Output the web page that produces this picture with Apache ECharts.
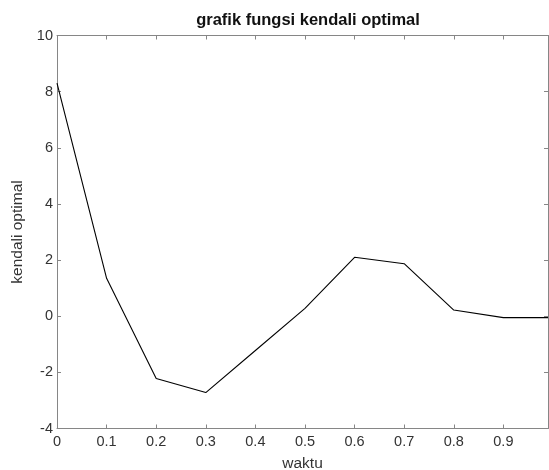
<!DOCTYPE html>
<html>
<head>
<meta charset="utf-8">
<script src="https://cdn.jsdelivr.net/npm/echarts@6/dist/echarts.min.js"></script>
<style>html,body{margin:0;padding:0;background:#fff}#c{width:549px;height:470px}</style>
</head>
<body>
<div id="c"></div>
<script>
var waktu = [0, 0.1, 0.2, 0.3, 0.4, 0.5, 0.6, 0.7, 0.8, 0.9, 0.99];
var kendali = [8.3, 1.35, -2.22, -2.72, -1.22, 0.28, 2.1, 1.87, 0.22, -0.05, -0.05];
var yTicks = [-4, -2, 0, 2, 4, 6, 8, 10];

var data = waktu.map(function (t, i) { return [t, kendali[i]]; });
var font = 'Liberation Sans, Arial, Helvetica, sans-serif';
var axisColor = '#868686';
var labelColor = '#333';

var chart = echarts.init(document.getElementById('c'));
chart.setOption({
  animation: false,
  title: {
    text: 'grafik fungsi kendali optimal',
    left: 303, top: 7, textAlign: 'center',
    textStyle: { fontFamily: font, fontSize: 16.5, fontWeight: 'bold', color: '#111' }
  },
  grid: { left: 57, top: 35.5, right: 1, bottom: 41.5, containLabel: false, outerBoundsMode: 'none' },
  xAxis: [{
    type: 'value', min: 0, max: 0.99, interval: 0.1,
    name: 'waktu', nameLocation: 'middle', nameGap: 27,
    nameTextStyle: { fontFamily: font, fontSize: 15.5, color: labelColor },
    axisLine: { onZero: false, lineStyle: { color: axisColor, width: 1 } },
    axisTick: { inside: true, length: 4, lineStyle: { color: axisColor } },
    axisLabel: { fontFamily: font, fontSize: 14.5, color: labelColor, margin: 6, showMaxLabel: false,
      formatter: function (v) { return String(Math.round(v * 10) / 10); } },
    splitLine: { show: false }
  }, {
    type: 'value', position: 'top', min: 0, max: 0.99, interval: 0.1,
    axisLine: { onZero: false, lineStyle: { color: axisColor, width: 1 } },
    axisTick: { inside: true, length: 4, lineStyle: { color: axisColor } },
    axisLabel: { show: false },
    splitLine: { show: false }
  }],
  yAxis: [{
    type: 'value', min: yTicks[0], max: yTicks[yTicks.length - 1], interval: 2,
    name: 'kendali optimal', nameLocation: 'middle', nameGap: 25, nameRotate: 90,
    nameTextStyle: { fontFamily: font, fontSize: 15.5, color: labelColor },
    axisLine: { show: true, onZero: false, lineStyle: { color: axisColor, width: 1 } },
    axisTick: { show: true, inside: true, length: 4, lineStyle: { color: axisColor } },
    axisLabel: { fontFamily: font, fontSize: 14.5, color: labelColor, margin: 4 },
    splitLine: { show: false }
  }, {
    type: 'value', position: 'right', min: yTicks[0], max: yTicks[yTicks.length - 1], interval: 2,
    axisLine: { show: true, onZero: false, lineStyle: { color: axisColor, width: 1 } },
    axisTick: { show: true, inside: true, length: 4, lineStyle: { color: axisColor } },
    axisLabel: { show: false },
    splitLine: { show: false }
  }],
  series: [{
    type: 'line', data: data, xAxisIndex: 0, yAxisIndex: 0,
    symbol: 'none', smooth: false,
    lineStyle: { color: '#000', width: 1.1 }
  }]
});
</script>
</body>
</html>
